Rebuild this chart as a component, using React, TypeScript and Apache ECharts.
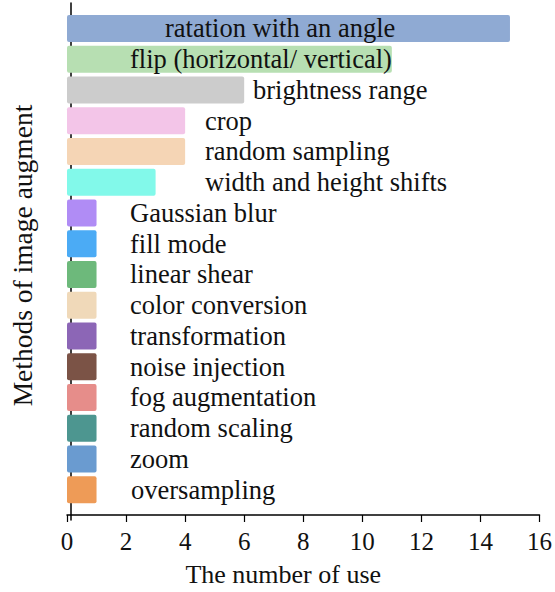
import React, { useEffect, useRef } from "react";
import * as echarts from "echarts";

const categories = [
  "ratation with an angle",
  "flip (horizontal/ vertical)",
  "brightness range",
  "crop",
  "random sampling",
  "width and height shifts",
  "Gaussian blur",
  "fill mode",
  "linear shear",
  "color conversion",
  "transformation",
  "noise injection",
  "fog augmentation",
  "random scaling",
  "zoom",
  "oversampling",
];
const values = [15, 11, 6, 4, 4, 3, 1, 1, 1, 1, 1, 1, 1, 1, 1, 1];
const xTicks = [0, 2, 4, 6, 8, 10, 12, 14, 16];

const colors = [
  "#8FAAD3", "#B7DFB2", "#CCCCCC", "#F3C5E8", "#F5D5B5", "#82F9EA",
  "#B08CF5", "#4BABF5", "#6DB97B", "#F0D9B9", "#8C66B6", "#7B5346",
  "#E68D8A", "#4D9690", "#6A9BD0", "#EE9B57",
];
// label start offset (px) from the bar's left edge
const labelDx = [98, 63, 186, 138, 138, 138, 63, 63, 63, 63, 63, 63, 63, 63, 63, 64];

const FONT = "'Liberation Serif', 'Times New Roman', serif";

export default function App() {
  const ref = useRef<HTMLDivElement>(null);
  useEffect(() => {
    document.body.style.margin = "0";
    if (!ref.current) return;
    const chart = echarts.init(ref.current, null, { renderer: "svg" });
    chart.setOption({
      animation: false,
      backgroundColor: "#ffffff",
      grid: [
        { left: 67, right: 14, top: 13, height: 496 },
        { left: 67, right: 14, top: 3, height: 517 },
      ],
      xAxis: [
        {
          gridIndex: 0,
          type: "value",
          min: xTicks[0],
          max: xTicks[xTicks.length - 1],
          interval: 2,
          offset: 10,
          splitLine: { show: false },
          axisLine: { show: true, lineStyle: { color: "#000", width: 1.5 } },
          axisTick: { show: true, inside: false, length: 7, lineStyle: { color: "#000", width: 1.2 } },
          axisLabel: { color: "#111", fontFamily: FONT, fontSize: 25, margin: 14 },
          name: "The number of use",
          nameLocation: "middle",
          nameGap: 46,
          nameTextStyle: { color: "#111", fontFamily: FONT, fontSize: 26, padding: [0, 40, 0, 0] },
        },
        {
          gridIndex: 1,
          type: "value",
          show: false,
        },
      ],
      yAxis: [
        {
          gridIndex: 0,
          type: "category",
          inverse: true,
          data: categories,
          axisLine: { show: false },
          axisTick: { show: false },
          axisLabel: { show: false },
        },
        {
          gridIndex: 1,
          type: "value",
          min: 0,
          max: 1,
          axisLine: { show: true, lineStyle: { color: "#000", width: 1.5 } },
          axisTick: { show: false },
          axisLabel: { show: false },
          splitLine: { show: false },
          name: "Methods of image augment",
          nameLocation: "middle",
          nameGap: 35,
          nameTextStyle: { color: "#111", fontFamily: FONT, fontSize: 27.5, padding: [0, 0, 0, 12] },
        },
      ],
      series: [
        {
          type: "bar",
          xAxisIndex: 0,
          yAxisIndex: 0,
          barWidth: 27,
          data: values.map((v, i) => ({
            value: v,
            itemStyle: { color: colors[i], borderRadius: 2 },
            label: {
              show: true,
              position: [labelDx[i], "50%"],
              align: "left",
              verticalAlign: "middle",
              formatter: categories[i],
              color: "#111",
              fontFamily: FONT,
              fontSize: 26.5,
            },
          })),
        },
      ],
    });
    return () => chart.dispose();
  }, []);
  return <div ref={ref} style={{ width: 555, height: 592 }} />;
}
